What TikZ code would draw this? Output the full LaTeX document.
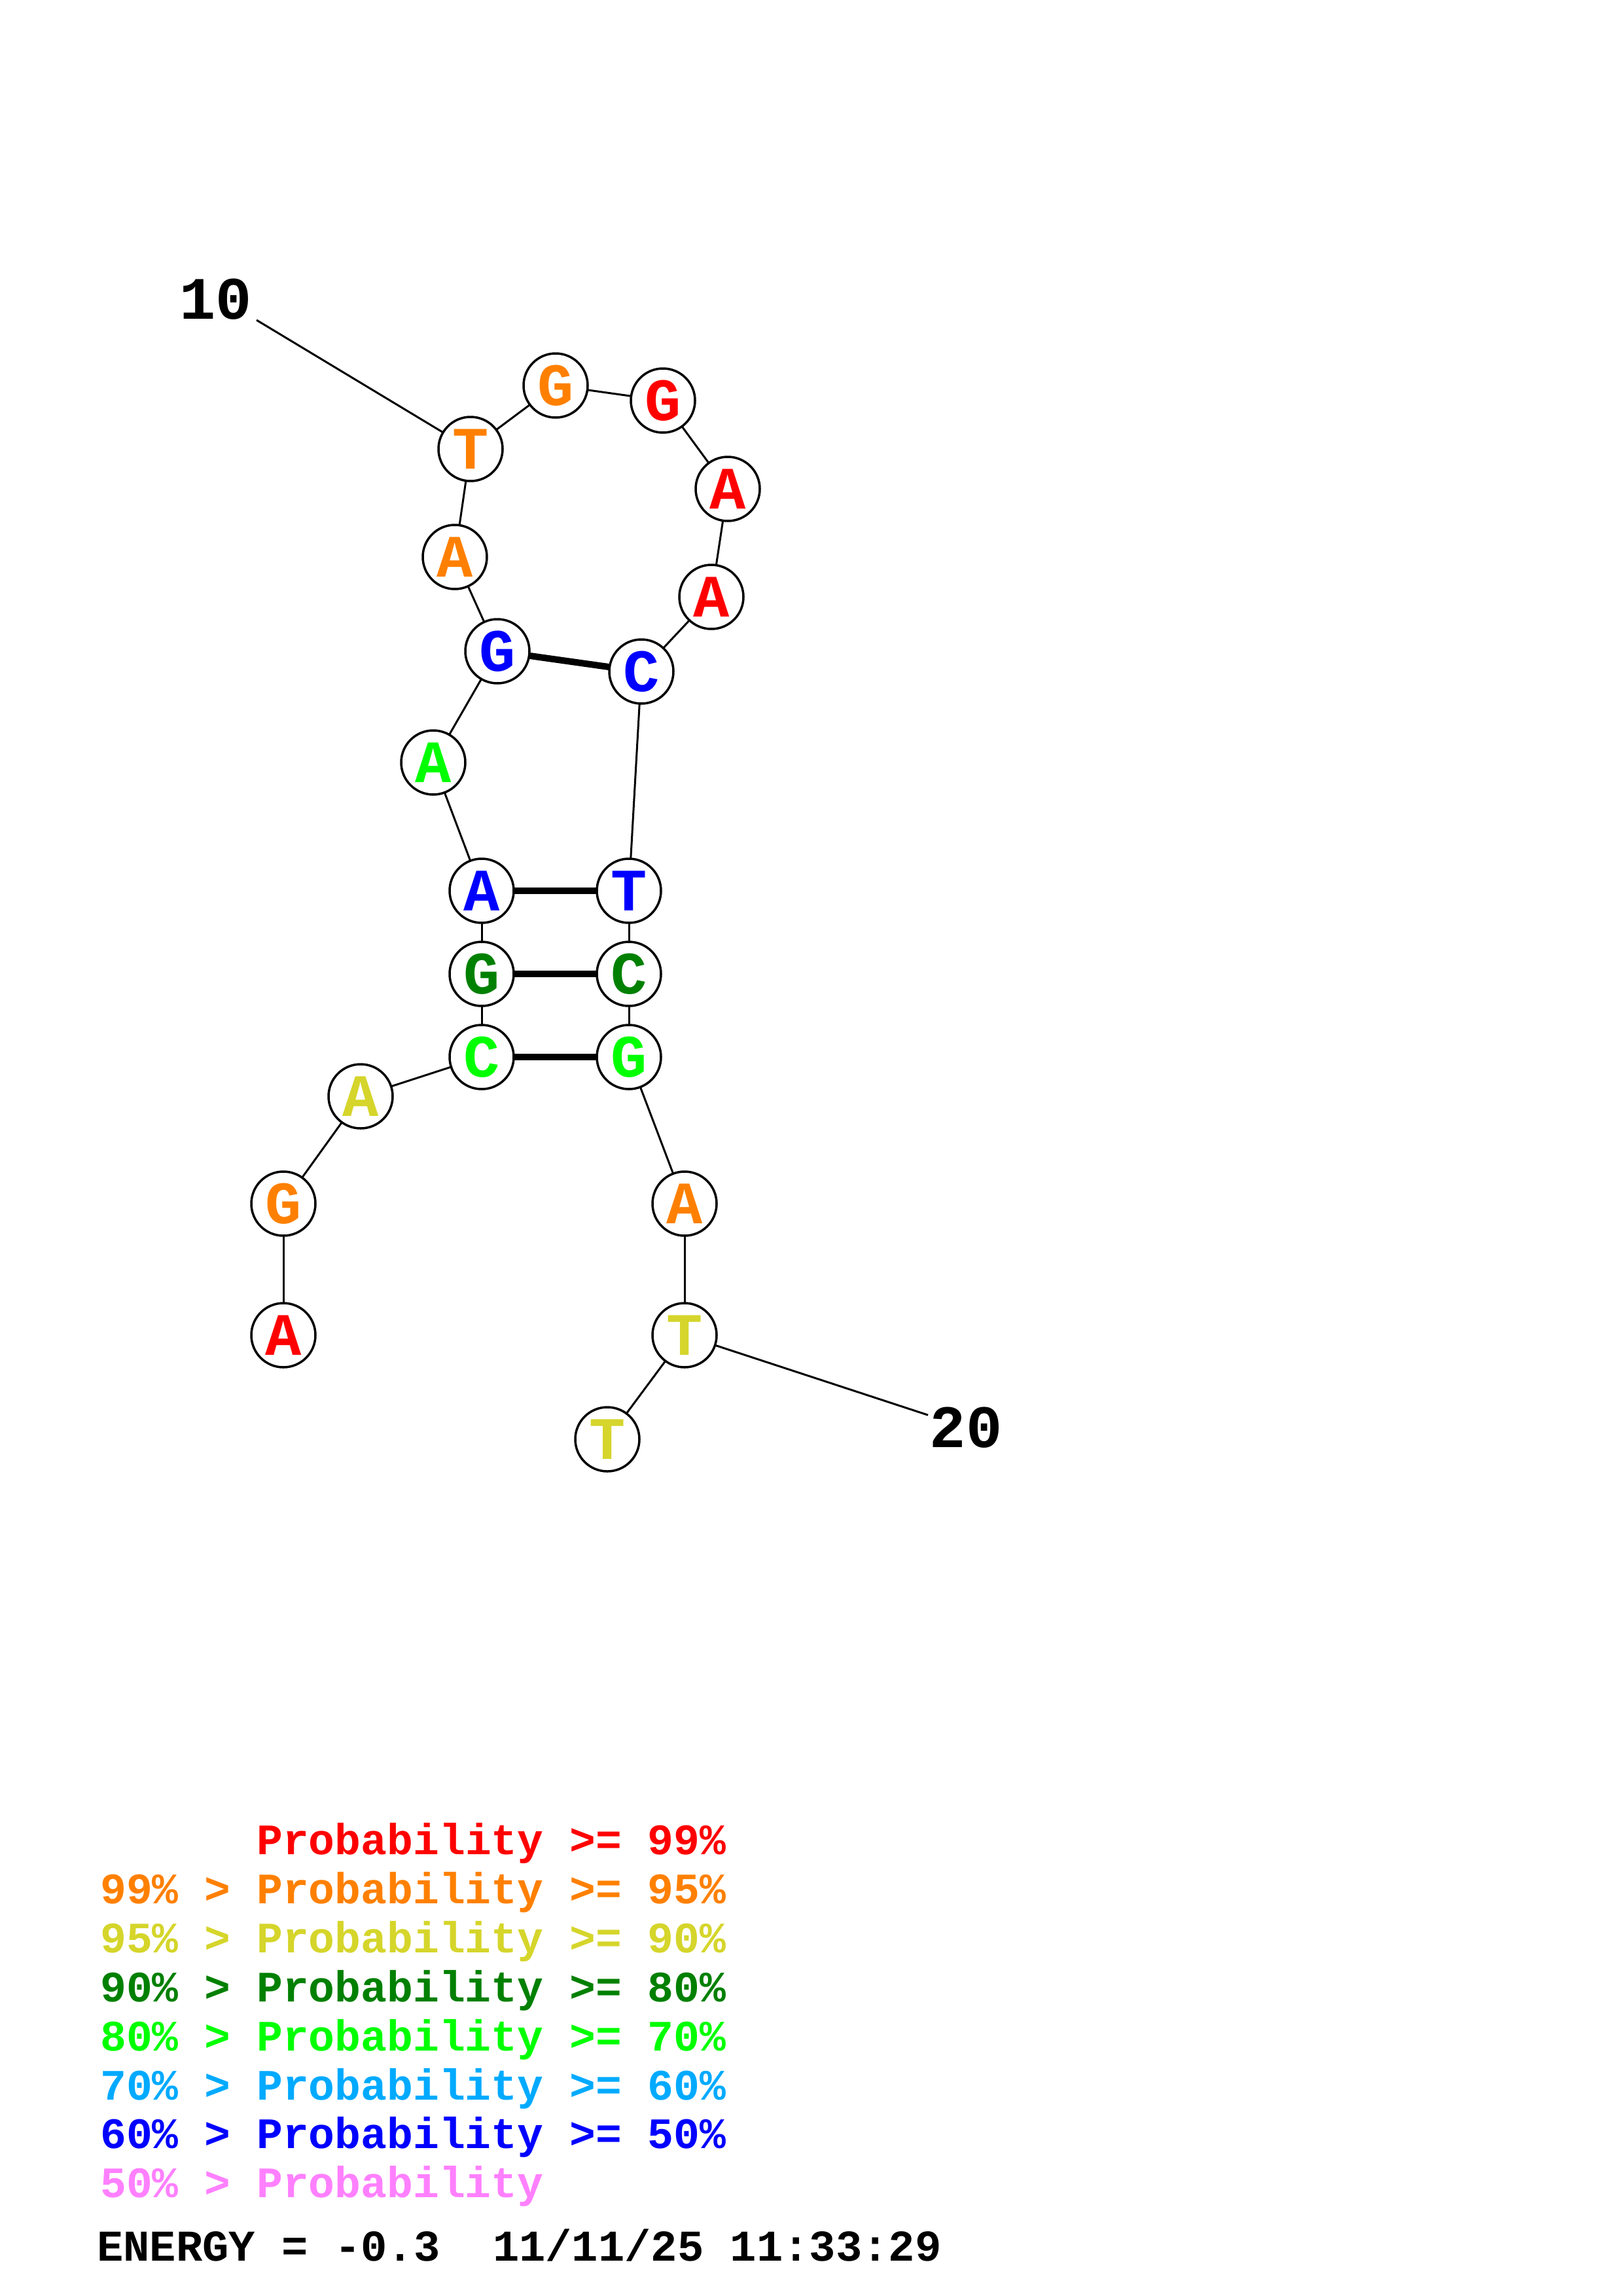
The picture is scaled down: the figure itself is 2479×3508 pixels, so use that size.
\documentclass[tikz,border=0pt]{standalone}
\usepackage{fontspec}
\newfontfamily\cour{Liberation Mono}
\definecolor{pRed}{RGB}{255,0,0}
\definecolor{pOrange}{RGB}{255,128,0}
\definecolor{pYellow}{RGB}{213,213,43}
\definecolor{pDkGreen}{RGB}{0,128,0}
\definecolor{pGreen}{RGB}{0,255,0}
\definecolor{pLtBlue}{RGB}{0,170,255}
\definecolor{pBlue}{RGB}{0,0,255}
\definecolor{pPink}{RGB}{255,128,255}
\tikzset{
  base/.style={circle, draw=black, line width=3.5pt, fill=white, minimum size=98pt, inner sep=0pt,
    font=\cour\bfseries\fontsize{92}{92}\selectfont},
  bb/.style={line width=3pt, draw=black},
  bp/.style={line width=10pt, draw=black},
  numlab/.style={inner sep=0pt, font=\cour\bfseries\fontsize{92}{92}\selectfont, text=black},
  leg/.style={anchor=base west, inner sep=0pt, font=\cour\bfseries\fontsize{66.4}{66.4}\selectfont},
  energy/.style={anchor=base west, inner sep=0pt, font=\cour\bfseries\fontsize{67.2}{67.2}\selectfont},
}
\begin{document}
\begin{tikzpicture}[x=1pt,y=-1pt]
\useasboundingbox[fill=white] (0,0) rectangle (2479,3508);
\coordinate (e10) at (392,489);
\coordinate (e20) at (1418,2162);
\node[numlab] (lab10) at (330,457) {10};
\node[numlab] (lab20) at (1476,2181) {20};
\path
 (433,2040) coordinate (p1)
 (433,1839) coordinate (p2)
 (551,1675) coordinate (p3)
 (736,1615) coordinate (p4)
 (736,1488) coordinate (p5)
 (736,1361) coordinate (p6)
 (662,1165) coordinate (p7)
 (760,995) coordinate (p8)
 (695,851) coordinate (p9)
 (719,686) coordinate (p10)
 (849,589) coordinate (p11)
 (1013,612) coordinate (p12)
 (1112,747) coordinate (p13)
 (1087,912) coordinate (p14)
 (980,1026) coordinate (p15)
 (961,1361) coordinate (p16)
 (961,1488) coordinate (p17)
 (961,1615) coordinate (p18)
 (1046,1839) coordinate (p19)
 (1046,2040) coordinate (p20)
 (928,2199) coordinate (p21);
\foreach \a/\b in {1/2,2/3,3/4,4/5,5/6,6/7,7/8,8/9,9/10,10/11,11/12,12/13,13/14,14/15,15/16,16/17,17/18,18/19,19/20,20/21}
  \draw[bb] (p\a) -- (p\b);
\draw[bb] (e10) -- (p10);
\draw[bb] (e20) -- (p20);
\foreach \a/\b in {4/18,5/17,6/16,8/15}
  \draw[bp] (p\a) -- (p\b);
\node[base, text=pRed] (n1) at (p1) {A};
\node[base, text=pOrange] (n2) at (p2) {G};
\node[base, text=pYellow] (n3) at (p3) {A};
\node[base, text=pGreen] (n4) at (p4) {C};
\node[base, text=pDkGreen] (n5) at (p5) {G};
\node[base, text=pBlue] (n6) at (p6) {A};
\node[base, text=pGreen] (n7) at (p7) {A};
\node[base, text=pBlue] (n8) at (p8) {G};
\node[base, text=pOrange] (n9) at (p9) {A};
\node[base, text=pOrange] (n10) at (p10) {T};
\node[base, text=pOrange] (n11) at (p11) {G};
\node[base, text=pRed] (n12) at (p12) {G};
\node[base, text=pRed] (n13) at (p13) {A};
\node[base, text=pRed] (n14) at (p14) {A};
\node[base, text=pBlue] (n15) at (p15) {C};
\node[base, text=pBlue] (n16) at (p16) {T};
\node[base, text=pDkGreen] (n17) at (p17) {C};
\node[base, text=pGreen] (n18) at (p18) {G};
\node[base, text=pOrange] (n19) at (p19) {A};
\node[base, text=pYellow] (n20) at (p20) {T};
\node[base, text=pYellow] (n21) at (p21) {T};
\node[leg, text=pRed] (l1) at (153,2833) {\hphantom{99\% > }Probability >= 99\%};
\node[leg, text=pOrange] (l2) at (153,2908) {99\% > Probability >= 95\%};
\node[leg, text=pYellow] (l3) at (153,2983) {95\% > Probability >= 90\%};
\node[leg, text=pDkGreen] (l4) at (153,3058) {90\% > Probability >= 80\%};
\node[leg, text=pGreen] (l5) at (153,3133) {80\% > Probability >= 70\%};
\node[leg, text=pLtBlue] (l6) at (153,3208) {70\% > Probability >= 60\%};
\node[leg, text=pBlue] (l7) at (153,3282) {60\% > Probability >= 50\%};
\node[leg, text=pPink] (l8) at (153,3357) {50\% > Probability};
\node[energy, text=black] (en) at (148,3454) {ENERGY = -0.3 \ 11/11/25 11:33:29};
\end{tikzpicture}
\end{document}
